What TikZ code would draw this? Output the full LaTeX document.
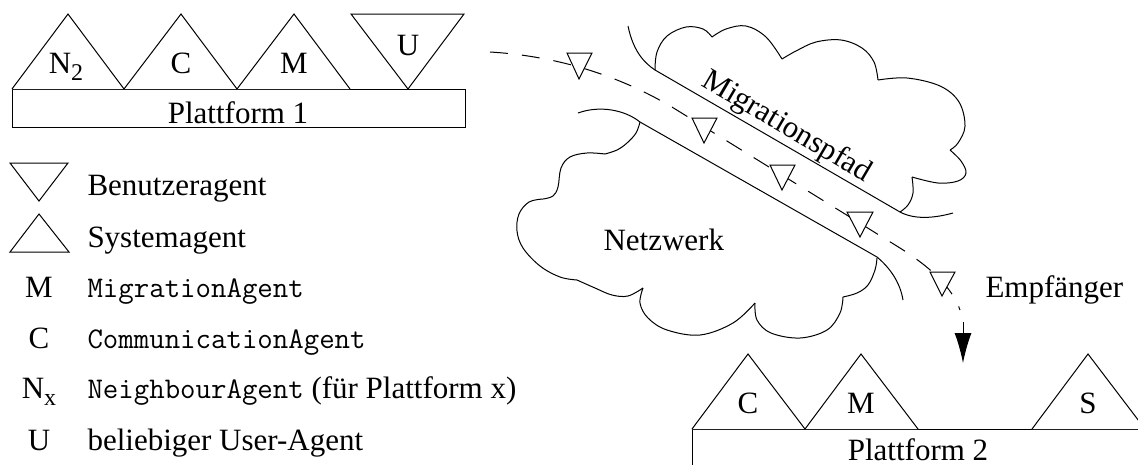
\documentclass[tikz,border=0pt]{standalone}
\usepackage{fontspec}
\setmainfont{Liberation Serif}
\usetikzlibrary{arrows.meta}
\newcommand{\mysub}[1]{\raisebox{-7pt}{\fontsize{24}{24}\selectfont #1}}
\begin{document}
\begin{tikzpicture}[x=1pt,y=-1pt,line width=1pt,line join=miter,
  lbl/.style={font=\fontsize{31}{36}\selectfont,inner sep=0pt,anchor=base},
  txt/.style={font=\fontsize{31}{36}\selectfont,inner sep=0pt,anchor=base west},
  mono/.style={font=\fontsize{30}{34}\selectfont\ttfamily,inner sep=0pt,anchor=base west},
  agent/.style={draw,fill=white,line width=1pt},
  platform/.style={draw,line width=1pt},
  cloudline/.style={line width=1pt},
  migpath/.style={line width=1pt,dash pattern=on 18pt off 14pt},
  mover/.style={draw,fill=white,line width=1pt}]
\useasboundingbox (0,0) rectangle (1138,464);
\clip (0,0) rectangle (1138,464);

% ---------- Plattform 1 ----------
\draw[platform] (12,89) rectangle (465,127);
\node[lbl] (p1) at (238,123) {Plattform 1};
\draw[agent] (12,89) -- (68,14) -- (124,89);
\draw[agent] (124,89) -- (181,14) -- (237,89);
\draw[agent] (237,89) -- (294,14) -- (350,89);
\draw[agent] (351,14) -- (464,14) -- (408,89) -- cycle;
\node[lbl] (n2) at (66,73) {N\mysub{2}};
\node[lbl] (c1) at (181,73) {C};
\node[lbl] (m1) at (294,73) {M};
\node[lbl] (u1) at (408,55) {U};

% ---------- Plattform 2 ----------
\draw[platform] (692,429) rectangle (1150,480);
\node[lbl] (p2) at (918,460) {Plattform 2};
\draw[agent] (692,429) -- (748,354) -- (805,429);
\draw[agent] (805,429) -- (861,354) -- (918,429);
\draw[agent] (1032,429) -- (1088,354) -- (1145,429);
\node[lbl] (c2) at (748,413) {C};
\node[lbl] (m2) at (861,413) {M};
\node[lbl] (s2) at (1088,413) {S};

% ---------- Cloud (Netzwerk) ----------
% upper part
\draw[cloudline] plot[smooth,tension=0.6] coordinates {(655,70) (657,52) (667,36) (686,27) (703,29) (712,37)};
\draw[cloudline] plot[smooth,tension=0.6] coordinates {(712,37) (726,29) (746,26) (766,37) (782,59)};
\draw[cloudline] plot[smooth,tension=0.6] coordinates {(782,59) (796,51) (816,42) (841,40) (862,48) (874,62) (878,80)};
\draw[cloudline] plot[smooth,tension=0.6] coordinates {(878,80) (907,78) (940,86) (959,102) (965,126) (958,143) (950,150)};
\draw[cloudline] plot[smooth,tension=0.6] coordinates {(950,150) (961,161) (966,173) (958,181) (938,183) (912,177)};
\draw[cloudline] plot[smooth,tension=0.6] coordinates {(912,177) (913,193) (908,205) (900,212)};
% lower part
\draw[cloudline] plot[smooth,tension=0.6] coordinates {(640,122) (636,133) (627,143) (617,150) (605,154)};
\draw[cloudline] plot[smooth,tension=0.6] coordinates {(605,154) (587,153) (570,157) (561,168) (558,187) (553,196) (543,199)};
\draw[cloudline] plot[smooth,tension=0.6] coordinates {(543,199) (529,202) (519,214) (517,231) (523,248) (540,266) (560,277) (577,280)};
\draw[cloudline] plot[smooth,tension=0.6] coordinates {(577,280) (595,288) (612,295) (628,296) (643,288)};
\draw[cloudline] plot[smooth,tension=0.6] coordinates {(643,288) (640,303) (648,318) (667,330) (700,335) (733,323) (755,303)};
\draw[cloudline] plot[smooth,tension=0.6] coordinates {(755,303) (757,320) (771,333) (800,338) (827,330) (840,313) (843,297)};
\draw[cloudline] plot[smooth,tension=0.6] coordinates {(843,297) (857,293) (868,285) (875,270) (877,258)};
\node[txt] (netz) at (603,250) {Netzwerk};

% ---------- Migration channel ----------
\draw[cloudline] (628,26) .. controls (633,50) and (643,62) .. (655,70) -- (900,212)
  .. controls (915,220) and (935,218) .. (953,213);
\draw[cloudline] (578,113) .. controls (600,105) and (625,110) .. (640,122) -- (877,257)
  .. controls (890,268) and (900,282) .. (903,300);
\node[txt,rotate=-30.5] (mig) at (700,85) {Migrationspfad};

% ---------- Migration path ----------
\coordinate (ps) at (490,52);
\coordinate (pa) at (680,112);
\coordinate (pb) at (900,248);
\coordinate (pc) at (960,310);
\coordinate (as) at (963,322);
\coordinate (ae) at (963,363);
\draw[migpath] (ps) .. controls (540,55) and (610,68) .. (pa) -- (pb)
  .. controls (930,267) and (952,287) .. (pc);
\draw[line width=1pt,-{Latex[length=30pt,width=17pt]}] (as) -- (ae);
\draw[mover] (567,53) -- (592,53) -- (579,79) -- cycle;
\draw[mover] (692,118) -- (717,118) -- (704,143) -- cycle;
\draw[mover] (770,165) -- (795,165) -- (782,190) -- cycle;
\draw[mover] (847,212) -- (873,212) -- (860,237) -- cycle;
\draw[mover] (930,272) -- (955,272) -- (942,296) -- cycle;
\node[txt] (empf) at (985,297) {Empfänger};

% ---------- Legend ----------
\draw[agent] (10,163) -- (68,163) -- (39,201) -- cycle;
\draw[agent] (10,252) -- (69,252) -- (39,214) -- cycle;
\node[txt] (lb) at (87,195) {Benutzeragent};
\node[txt] (ls) at (87,247) {Systemagent};
\node[lbl] (km) at (39,297) {M};
\node[mono] (lm) at (87,297) {MigrationAgent};
\node[lbl] (kc) at (39,348) {C};
\node[mono] (lc) at (87,348) {CommunicationAgent};
\node[lbl] (kn) at (39,398) {N\mysub{x}};
\node[txt] (ln) at (87,398) {\fontsize{30}{34}\selectfont\ttfamily NeighbourAgent\fontsize{31}{36}\selectfont\rmfamily{} (für Plattform x)};
\node[lbl] (ku) at (39,450) {U};
\node[txt] (lu) at (87,450) {beliebiger User-Agent};
\end{tikzpicture}
\end{document}
